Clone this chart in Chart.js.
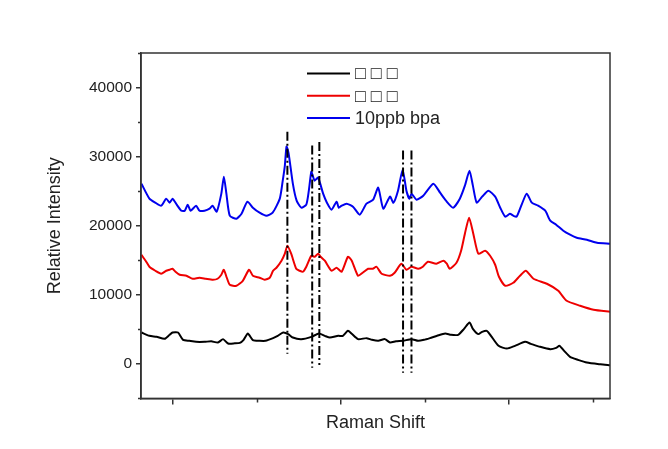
<!DOCTYPE html>
<html>
<head>
<meta charset="utf-8">
<script src="https://cdn.jsdelivr.net/npm/chart.js@4.4.0/dist/chart.umd.min.js"></script>
<style>
  html, body { margin: 0; padding: 0; background: #fff; }
  canvas { display: block; }
</style>
</head>
<body>
<canvas id="chart" width="668" height="449"></canvas>
<script>
const seriesLabels = ["□ □ □", "□ □ □", "10ppb bpa"];

const blackShift = [326, 345, 362, 381, 393, 400, 413, 425, 440, 456, 476, 492, 508, 520, 532, 548, 560, 569, 579, 591, 607, 621, 639, 650, 663, 675, 686, 706, 730, 748, 762, 774, 794, 805, 817, 826, 841, 861, 874, 889, 905, 917, 931, 948, 968, 984, 998, 1012, 1029, 1048, 1062, 1079, 1093, 1106, 1114, 1127, 1136, 1147, 1157, 1175, 1195, 1214, 1238, 1252, 1274, 1298, 1312, 1320, 1331, 1345, 1364, 1385, 1417, 1440];
const blackIntensity = [4536, 4058, 3913, 3623, 4203, 4536, 4536, 3478, 3333, 3188, 3188, 3261, 3087, 3580, 2942, 2971, 3043, 3478, 4391, 3435, 3333, 3333, 3725, 4058, 4536, 4304, 3812, 3580, 3913, 4391, 4058, 3812, 4058, 4058, 4783, 4348, 3580, 3725, 3478, 3333, 3580, 3087, 3261, 3333, 3580, 3333, 3478, 3725, 4058, 4391, 4203, 4203, 5072, 5986, 5072, 4304, 4638, 4783, 4058, 2609, 2217, 2609, 3188, 2899, 2464, 2130, 2319, 2609, 1884, 1014, 580, 188, -72, -217];

const redShift = [326, 336, 345, 359, 373, 385, 393, 400, 407, 417, 433, 448, 464, 479, 496, 507, 516, 522, 529, 536, 552, 567, 582, 591, 607, 619, 631, 639, 647, 659, 667, 673, 682, 694, 702, 710, 718, 730, 738, 746, 752, 762, 778, 790, 802, 817, 826, 841, 852, 865, 876, 885, 897, 917, 928, 944, 956, 968, 984, 995, 1007, 1027, 1044, 1052, 1059, 1075, 1086, 1095, 1105, 1115, 1127, 1143, 1155, 1167, 1176, 1191, 1210, 1226, 1240, 1258, 1290, 1317, 1337, 1369, 1401, 1440];
const redIntensity = [15797, 14928, 14058, 13478, 13043, 13478, 13623, 13768, 13333, 12899, 12754, 12319, 12464, 12319, 12174, 12319, 12899, 13623, 12464, 11449, 11304, 12029, 13623, 12754, 12464, 12174, 12464, 13478, 13913, 14928, 15942, 17101, 15942, 13768, 13478, 13333, 14058, 15652, 15507, 15942, 15507, 14928, 13478, 13913, 13333, 15507, 14928, 12754, 13188, 13768, 13768, 14058, 13043, 12754, 13188, 14493, 13623, 14058, 13768, 14058, 14783, 14493, 14928, 14493, 13768, 14638, 16377, 18841, 21159, 18841, 15942, 16377, 15652, 14348, 12609, 11304, 11739, 12754, 13478, 12319, 11594, 10580, 9130, 8406, 7826, 7536];

const blueShift = [326, 345, 359, 373, 385, 393, 400, 410, 421, 429, 436, 443, 456, 464, 476, 488, 495, 505, 516, 522, 528, 536, 552, 564, 578, 591, 607, 623, 638, 655, 662, 667, 671, 676, 686, 695, 706, 718, 724, 730, 734, 738, 746, 758, 767, 778, 790, 795, 802, 814, 829, 845, 861, 877, 889, 901, 917, 925, 936, 947, 956, 963, 968, 980, 996, 1020, 1036, 1050, 1067, 1083, 1095, 1106, 1114, 1123, 1136, 1151, 1167, 1179, 1191, 1202, 1210, 1218, 1229, 1242, 1254, 1269, 1286, 1298, 1312, 1329, 1345, 1361, 1385, 1409, 1440];
const blueIntensity = [26087, 23913, 23333, 22899, 23913, 23333, 23913, 23043, 22174, 22174, 23043, 22174, 22899, 22174, 22174, 22464, 22899, 22029, 24638, 27101, 24638, 21449, 21014, 21739, 23478, 22609, 21884, 21449, 21884, 23913, 26522, 28696, 31450, 30435, 26087, 23623, 22609, 23043, 25072, 27826, 27101, 26522, 26956, 24638, 23333, 22319, 23478, 22609, 22899, 23188, 22754, 21594, 23188, 23768, 25507, 22464, 24203, 23333, 25072, 28116, 25072, 23913, 24638, 23768, 24348, 26087, 24783, 23623, 22609, 23913, 25797, 27971, 25797, 23333, 24203, 25072, 24203, 22609, 21304, 21739, 21449, 21304, 22899, 24638, 23333, 22899, 22174, 20725, 20145, 19275, 18696, 18261, 17971, 17536, 17391];

// dash-dot guide lines
const markerShift = [673, 732, 749, 948, 968];
const markerTop = [33600, 31600, 32100, 30900, 30900];
const markerBottom = [1450, -580, -150, -1300, -1300];

const yMajorTicks = [0, 10000, 20000, 30000, 40000];
const yMinorTicks = [-5000, 5000, 15000, 25000, 35000, 45000];
const xMajorTicks = [400, 800, 1200];
const xMinorTicks = [600, 1000, 1400];

const axisColor = "#333";
const textColor = "#222";
const colors = ["#000000", "#ee0000", "#0000ee"];
const fontFamily = "'Liberation Sans', Arial, sans-serif";

const toPoints = (xs, ys) => xs.map((x, i) => ({ x: x, y: ys[i] }));

const datasets = [
    [blackShift, blackIntensity],
    [redShift, redIntensity],
    [blueShift, blueIntensity]
].map(([xs, ys], i) => ({
    label: seriesLabels[i],
    data: toPoints(xs, ys),
    borderColor: colors[i],
    borderWidth: 2,
    pointRadius: 0,
    tension: 0.2,
    order: 1
}));

markerShift.forEach((s, i) => {
    datasets.push({
        label: "marker",
        data: [{ x: s, y: markerTop[i] }, { x: s, y: markerBottom[i] }],
        borderColor: "#000",
        borderWidth: 2,
        borderDash: [9, 3, 2, 3],
        pointRadius: 0,
        order: 0
    });
});

const framePlugin = {
    id: "frame",
    afterDraw(chart) {
        const { ctx, chartArea: a, scales: { x, y } } = chart;
        ctx.save();
        ctx.strokeStyle = axisColor;
        ctx.lineWidth = 1.5;
        ctx.strokeRect(a.left, a.top, a.right - a.left, a.bottom - a.top);
        ctx.beginPath();
        yMinorTicks.forEach(v => {
            const py = Math.round(y.getPixelForValue(v)) + 0.5;
            ctx.moveTo(a.left - 3, py);
            ctx.lineTo(a.left, py);
        });
        xMinorTicks.forEach(v => {
            const px = Math.round(x.getPixelForValue(v)) + 0.5;
            ctx.moveTo(px, a.bottom);
            ctx.lineTo(px, a.bottom + 4);
        });
        ctx.stroke();

        // legend inside the plot
        ctx.font = "18px " + fontFamily;
        ctx.textBaseline = "middle";
        ctx.textAlign = "left";
        for (let i = 0; i < 3; i++) {
            const ds = chart.data.datasets[i];
            const ly = 73.5 + i * 22.2;
            ctx.strokeStyle = ds.borderColor;
            ctx.lineWidth = 2;
            ctx.beginPath();
            ctx.moveTo(307, ly);
            ctx.lineTo(350, ly);
            ctx.stroke();
            ctx.fillStyle = textColor;
            ctx.fillText(ds.label, 355, ly + 1);
        }
        ctx.restore();
    }
};

new Chart(document.getElementById("chart"), {
    type: "line",
    data: { datasets: datasets },
    plugins: [framePlugin],
    options: {
        responsive: false,
        animation: false,
        devicePixelRatio: 1,
        layout: { padding: { top: 53, right: 58, bottom: 15, left: 0 } },
        plugins: { legend: { display: false }, tooltip: { enabled: false } },
        scales: {
            x: {
                type: "linear",
                min: 325,
                max: 1440,
                afterBuildTicks: s => { s.ticks = xMajorTicks.map(v => ({ value: v })); },
                ticks: { display: false },
                grid: { drawOnChartArea: false, tickLength: 6, color: axisColor, lineWidth: 1.5 },
                border: { color: axisColor, width: 1.5 },
                title: {
                    display: true,
                    text: "Raman Shift",
                    color: textColor,
                    font: { family: fontFamily, size: 18 },
                    padding: { top: 8, bottom: 0 }
                }
            },
            y: {
                min: -5000,
                max: 45000,
                afterBuildTicks: s => { s.ticks = yMajorTicks.map(v => ({ value: v })); },
                afterFit: s => { s.width = 141; },
                ticks: {
                    color: textColor,
                    padding: 4,
                    font: { family: fontFamily, size: 15.5 },
                    callback: v => String(v)
                },
                grid: { drawOnChartArea: false, tickLength: 5, color: axisColor, lineWidth: 1.5 },
                border: { color: axisColor, width: 1.5 },
                title: {
                    display: true,
                    text: "Relative Intensity",
                    color: textColor,
                    font: { family: fontFamily, size: 18 },
                    padding: { top: 44, bottom: 0 }
                }
            }
        }
    }
});
</script>
</body>
</html>
